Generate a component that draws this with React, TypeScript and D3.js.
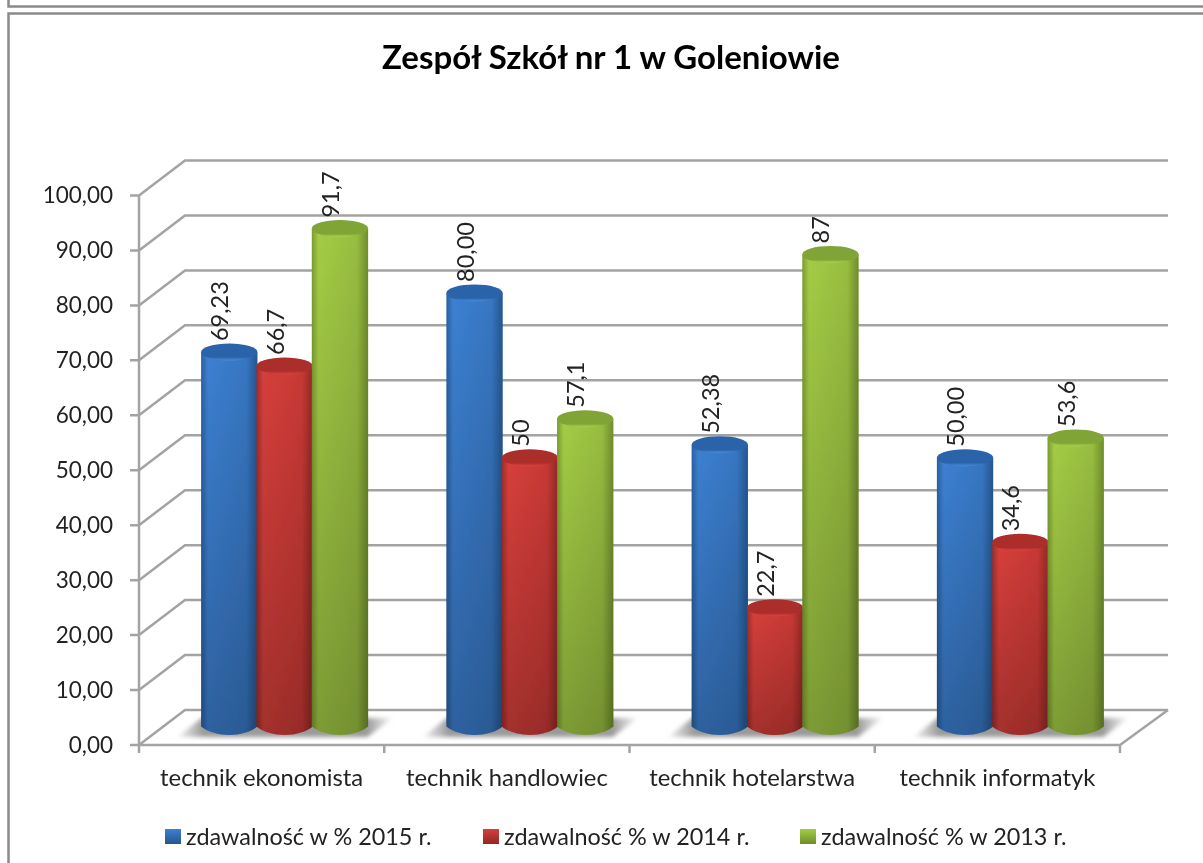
import React from "react";
import * as d3 from "d3";

const categories = ["technik ekonomista", "technik handlowiec", "technik hotelarstwa", "technik informatyk"];
const seriesNames = ["zdawalność w % 2015 r.", "zdawalność % w 2014 r.", "zdawalność % w 2013 r."];
const values2015 = [69.23, 80.0, 52.38, 50.0];
const values2014 = [66.7, 50, 22.7, 34.6];
const values2013 = [91.7, 57.1, 87, 53.6];
const labels2015 = ["69,23", "80,00", "52,38", "50,00"];
const labels2014 = ["66,7", "50", "22,7", "34,6"];
const labels2013 = ["91,7", "57,1", "87", "53,6"];
const yTicks = [0, 10, 20, 30, 40, 50, 60, 70, 80, 90, 100];
const title = "Zespół Szkół nr 1 w Goleniowie";

const series = [
  { id: "b", name: seriesNames[0], values: values2015, labels: labels2015, stops: ["#2a5f9f", "#3c80d2", "#3776c2", "#25568f"], top: ["#2a64aa", "#4a8dd9"] },
  { id: "r", name: seriesNames[1], values: values2014, labels: labels2014, stops: ["#a02c29", "#d63f3b", "#c83935", "#922825"], top: ["#ab2e2b", "#dd4541"] },
  { id: "g", name: seriesNames[2], values: values2013, labels: labels2013, stops: ["#7a9c30", "#a4cc46", "#98bd40", "#6f8d2b"], top: ["#80a434", "#aed34e"] },
];

const FONT = "Lato, 'Noto Sans', sans-serif";
const GRID = "#a3a3a3";
const TEXT = "#222";
const DX = 46;
const DY = -35;

const x0 = d3.scaleBand<string>().domain(categories).range([139, 1120]);
const y = d3.scaleLinear().domain([0, 100]).range([745, 195.5]);
const xBar = d3.scaleBand<string>().domain(series.map((s) => s.id)).range([0, 166]);
const RY = 8.5;
const MID_DX = 23;
const TOP_DY = -12.5;
const BASE_DY = -18.5;

function cylinder(cx: number, rx: number, yTop: number, yBase: number) {
  const p = d3.path();
  p.moveTo(cx - rx, yTop);
  p.lineTo(cx - rx, yBase);
  p.bezierCurveTo(cx - rx * 0.5, yBase + RY * 1.33, cx + rx * 0.5, yBase + RY * 1.33, cx + rx, yBase);
  p.lineTo(cx + rx, yTop);
  p.closePath();
  return p.toString();
}

export default function App() {
  const legendX = [165, 483, 800];
  return (
    <svg width={1203} height={863} style={{ position: "fixed", left: 0, top: 0, background: "#fff" }} fontFamily={FONT}>
      <defs>
        {series.map((s) => (
          <linearGradient key={s.id} id={`cyl-${s.id}`} x1="0" x2="1" y1="0" y2="0">
            <stop offset="0" stopColor={s.stops[0]} />
            <stop offset="0.12" stopColor={s.stops[1]} />
            <stop offset="0.8" stopColor={s.stops[2]} />
            <stop offset="1" stopColor={s.stops[3]} />
          </linearGradient>
        ))}
        {series.map((s) => (
          <linearGradient key={s.id} id={`top-${s.id}`} x1="0" x2="0" y1="0" y2="1">
            <stop offset="0" stopColor={s.top[0]} />
            <stop offset="0.8" stopColor={s.top[0]} />
            <stop offset="1" stopColor={s.top[1]} />
          </linearGradient>
        ))}
        {series.map((s) => (
          <linearGradient key={s.id} id={`leg-${s.id}`} x1="0" x2="0" y1="0" y2="1">
            <stop offset="0" stopColor={s.stops[1]} />
            <stop offset="1" stopColor={s.stops[3]} />
          </linearGradient>
        ))}
        <linearGradient id="fade" x1="0" x2="0" y1="0" y2="1">
          <stop offset="0" stopColor="#000" stopOpacity="0" />
          <stop offset="1" stopColor="#000" stopOpacity="0.24" />
        </linearGradient>
        <linearGradient id="shadow" x1="0" x2="1" y1="0" y2="0">
          <stop offset="0" stopColor="#a8a8a8" stopOpacity="0.15" />
          <stop offset="0.12" stopColor="#9a9a9a" />
          <stop offset="0.88" stopColor="#9a9a9a" />
          <stop offset="1" stopColor="#a8a8a8" stopOpacity="0.1" />
        </linearGradient>
        <filter id="soft" x="-5%" y="-5%" width="110%" height="110%">
          <feGaussianBlur stdDeviation="0.6" />
        </filter>
        <filter id="soft2" x="-10%" y="-50%" width="120%" height="200%">
          <feGaussianBlur stdDeviation="2" />
        </filter>
      </defs>

      <g filter="url(#soft)">
        <path d="M1210,6.5H8.5V-5" fill="none" stroke="#8a8a8a" strokeWidth={2.5} />
        <path d="M1210,13.5H8.5V880" fill="none" stroke="#8a8a8a" strokeWidth={2.5} />

        <text x={611} y={69} textAnchor="middle" fontSize={33} fontWeight={700} fill="#000">{title}</text>

        {/* walls */}
        <g fill="none" stroke={GRID} strokeWidth={2.5}>
          {yTicks.map((t) => (
            <path key={t} d={`M${x0.range()[0] - 9},${y(t)}H${x0.range()[0]}L${x0.range()[0] + DX},${y(t) + DY}H${x0.range()[1] + DX + 2}`} />
          ))}
          <line x1={139} x2={139} y1={y(100)} y2={y(0)} />
          <path d={`M139,${y(0)}H${x0.range()[1]}L${x0.range()[1] + DX + 2},${y(0) + DY}`} />
          {[...categories.map((c) => x0(c)!), x0.range()[1]].map((v) => (
            <line key={v} x1={v} x2={v} y1={y(0)} y2={y(0) + 8} />
          ))}
        </g>

        {yTicks.map((t) => (
          <text key={t} x={113} y={y(t) + 7.5} textAnchor="end" fontSize={22.5} fill={TEXT}>
            {d3.format(".2f")(t).replace(".", ",")}
          </text>
        ))}
        {categories.map((c) => (
          <text key={c} x={x0(c)! + x0.bandwidth() / 2} y={786} textAnchor="middle" fontSize={23.8} fill={TEXT}>{c}</text>
        ))}

        {/* shadows */}
        {categories.map((c) => {
          const l = x0(c)! + x0.bandwidth() / 2 + MID_DX - 83;
          const r = l + 166;
          const yb = y(0) - 8;
          const yt = y(0) - 27;
          return (
            <path key={c} d={`M${l - 24},${yb}L${l},${yt}H${r + 25}L${r},${yb}Z`} fill="url(#shadow)" filter="url(#soft2)" />
          );
        })}

        {/* cylinders */}
        {categories.map((c, i) => {
          const gx = x0(c)! + x0.bandwidth() / 2 + MID_DX - 83;
          return (
            <g key={c}>
              {series.map((s) => {
                const rx = xBar.bandwidth() / 2 + 0.5;
                const cx = gx + xBar(s.id)! + xBar.bandwidth() / 2;
                const yTop = y(s.values[i]) + TOP_DY;
                const yBase = y(0) + BASE_DY;
                const d = cylinder(cx, rx, yTop, yBase);
                return (
                  <g key={s.id}>
                    <path d={d} fill={`url(#cyl-${s.id})`} />
                    <path d={d} fill="url(#fade)" />
                    <ellipse cx={cx} cy={yTop} rx={rx} ry={RY} fill={`url(#top-${s.id})`} />
                  </g>
                );
              })}
            </g>
          );
        })}

        {/* data labels */}
        {categories.map((c, i) => {
          const gx = x0(c)! + x0.bandwidth() / 2 + MID_DX - 83;
          return series.map((s) => {
            const cx = gx + xBar(s.id)! + xBar.bandwidth() / 2 - 1;
            const yTop = y(s.values[i]) + TOP_DY;
            return (
              <text key={s.id + c} transform={`translate(${cx},${yTop - 11}) rotate(-90)`} fontSize={23.5} fill={TEXT}>
                {s.labels[i]}
              </text>
            );
          });
        })}

        {/* legend */}
        {series.map((s, i) => (
          <g key={s.id}>
            <rect x={legendX[i]} y={829} width={16} height={15} fill={`url(#leg-${s.id})`} />
            <text x={legendX[i] + 21} y={845} fontSize={23.4} fill={TEXT}>{s.name}</text>
          </g>
        ))}
      </g>
    </svg>
  );
}
